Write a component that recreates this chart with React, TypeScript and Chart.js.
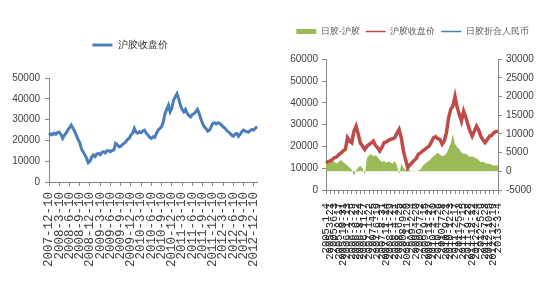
import React, { useEffect, useRef } from 'react';
import { Chart, registerables } from 'chart.js';
Chart.register(...registerables);

// ---------- Left chart data (semi-monthly closes, 2007-12 .. 2012-12) ----------
const leftTickLabels = [
  '2007-12-10', '2008-3-10', '2008-6-10', '2008-9-10', '2008-12-10',
  '2009-3-10', '2009-6-10', '2009-9-10', '2009-12-10', '2010-3-10',
  '2010-6-10', '2010-9-10', '2010-12-10', '2011-3-10', '2011-6-10',
  '2011-9-10', '2011-12-10', '2012-3-10', '2012-6-10', '2012-9-10',
  '2012-12-10',
];
const leftPrice = [
  22500, 23200, 22800, 23500, 23000, 23800, 24000, 22900, 21000, 22500, 23500,
  25000, 26200, 27400, 26000, 24500, 22600, 20500, 19000, 16000, 14500,
  13000, 11500, 9300, 10000, 12000, 13000, 12200, 13500, 13800, 13200,
  14200, 14600, 14000, 15000, 15000, 14600, 15200, 15400, 18600, 18000,
  17000, 17200, 18000, 18600, 19400, 20500, 21000, 22600, 23500, 25800,
  24000, 23500, 24200, 23800, 24600, 25000, 23500, 22600, 21500, 21000,
  21800, 21500, 23500, 25000, 25800, 26600, 29000, 33000, 35000, 37000,
  33800, 35500, 39400, 41000, 42600, 40000, 37000, 35000, 33800, 35000,
  33000, 32000, 31400, 32500, 33000, 33800, 35000, 33000, 30500, 28200,
  26500, 25800, 24500, 25000, 26500, 28200, 28500, 28000, 28500, 28300,
  27500, 26600, 26000, 25000, 24200, 23500, 22600, 22000, 23000, 23400,
  22000, 23000, 24200, 25000, 24500, 24200, 24000, 24800, 25300, 25000, 26000, 26600,
];
const LEFT_STEP = 6; // points per quarter label

// ---------- Right chart data (2005 .. 2013) ----------
const rightTickLabels = [
  '2005-1-4', '2005-3-21', '2005-6-3', '2005-8-17', '2005-10-31', '2006-1-13',
  '2006-3-29', '2006-6-12', '2006-8-24', '2006-11-7', '2007-1-22', '2007-4-5',
  '2007-6-19', '2007-8-31', '2007-11-14', '2008-1-29', '2008-4-11', '2008-6-25',
  '2008-9-8', '2008-11-20', '2009-2-4', '2009-4-20', '2009-7-2', '2009-9-15',
  '2009-11-27', '2010-2-10', '2010-4-26', '2010-7-8', '2010-9-21', '2010-12-3',
  '2011-2-17', '2011-5-3', '2011-7-15', '2011-9-28', '2011-12-12', '2012-2-24',
  '2012-5-9', '2012-7-23', '2012-10-5', '2012-12-19', '2013-3-4',
];
const RIGHT_STEP = 2;
const shfePrice = [
  12500, 13000, 13300, 14000, 14800, 15200, 16300, 17000, 18000, 18600, 24000,
  22500, 21700, 27000, 29300, 25500, 21500, 20200, 18600, 20000, 20900,
  21500, 22400, 20500, 19400, 17900, 19500, 21700, 22000, 22800, 23200,
  23500, 24000, 26000, 27800, 24000, 18000, 14000, 10200, 11500, 12500,
  13500, 14500, 16500, 17000, 18000, 18600, 19500, 20200, 22000, 24000,
  24500, 23500, 23200, 21000, 22500, 26200, 33000, 37000, 38500, 43000,
  38000, 34700, 31600, 36200, 33500, 30100, 27000, 24700, 27000, 29300,
  27500, 24700, 23000, 21700, 23000, 24700, 25000, 26200, 26800, 27000,
];
const spread = [
  2000, 2500, 2200, 2800, 2500, 2000, 2600, 3000, 2400, 2000, 1500,
  1000, 500, -1200, 300, 1000, 1500, 800, -1000, 3500, 4200,
  4600, 4000, 4300, 3800, 3000, 2500, 2800, 2200, 2600, 2400,
  2000, 2800, 1500, -800, 2000, 1000, 300, 1500, 200, 100,
  100, 0, 200, 500, 1500, 2000, 2500, 2800, 3500, 4000,
  4500, 5000, 4500, 4000, 4200, 4800, 6000, 7500, 10000, 7300,
  6500, 6000, 5000, 4600, 4800, 4200, 3800, 4000, 3700, 3500,
  3000, 2400, 2600, 2200, 2000, 2000, 1800, 1500, 1600, 1500,
];
const japanRmb: number[] = [];

const AXIS = '#868686';
const TEXT = '#404040';
const SANS = "'Liberation Sans', Arial, sans-serif";
const MONO = "'Liberation Mono', 'DejaVu Sans Mono', monospace";
const plain = (v: any) => String(v);

export default function App() {
  const lRef = useRef<HTMLCanvasElement>(null);
  const rRef = useRef<HTMLCanvasElement>(null);

  useEffect(() => {
    const left = new Chart(lRef.current!, {
      type: 'line',
      data: {
        labels: leftPrice.map((_, i) => String(i)),
        datasets: [
          {
            label: '沪胶收盘价',
            data: leftPrice,
            borderColor: '#4A7EBB',
            backgroundColor: '#4A7EBB',
            borderWidth: 3,
            pointRadius: 0,
            tension: 0,
            pointStyle: 'line',
          },
        ],
      },
      options: {
        responsive: false,
        devicePixelRatio: 1,
        animation: false,
        layout: { padding: { top: 32, right: 15, bottom: 0, left: 0 } },
        plugins: {
          tooltip: { enabled: false },
          legend: {
            position: 'top',
            labels: {
              usePointStyle: true,
              pointStyleWidth: 20,
              boxHeight: 10,
              padding: 8,
              color: '#333',
              font: { family: SANS, size: 10 },
            },
          },
          subtitle: {
            display: true,
            text: '',
            position: 'top',
            weight: 500,
            font: { size: 1 },
            padding: { top: 17, bottom: 0 },
          },
        },
        scales: {
          x: {
            type: 'category',
            offset: false,
            afterFit: (s: any) => { s.height = 118; },
            grid: { drawOnChartArea: false, drawTicks: true, tickLength: 4, color: AXIS },
            border: { color: AXIS },
            ticks: {
              autoSkip: false,
              maxRotation: 90,
              minRotation: 90,
              padding: 6,
              color: TEXT,
              font: { family: MONO, size: 12.5 },
              callback: (_v: any, i: number) =>
                i % LEFT_STEP === 0 && i / LEFT_STEP < leftTickLabels.length
                  ? leftTickLabels[i / LEFT_STEP]
                  : null,
            },
          },
          y: {
            min: 0,
            max: 50000,
            afterFit: (s: any) => { s.width = 49; },
            grid: { drawOnChartArea: false, tickLength: 4, color: AXIS },
            border: { color: AXIS },
            ticks: { stepSize: 10000, color: TEXT, padding: 5, font: { family: SANS, size: 10 }, callback: plain },
          },
        },
      },
    } as any);

    const right = new Chart(rRef.current!, {
      type: 'line',
      data: {
        labels: shfePrice.map((_, i) => String(i)),
        datasets: [
          {
            label: '日胶-沪胶',
            data: spread,
            yAxisID: 'y1',
            fill: 'origin',
            backgroundColor: '#9BBB59',
            borderColor: '#9BBB59',
            borderWidth: 0,
            pointRadius: 0,
            tension: 0,
            pointStyle: 'rect',
            order: 3,
          },
          {
            label: '沪胶收盘价',
            data: shfePrice,
            yAxisID: 'y',
            borderColor: '#BE4B48',
            backgroundColor: '#BE4B48',
            borderWidth: 3.5,
            pointRadius: 0,
            tension: 0,
            pointStyle: 'line',
            order: 1,
          },
          {
            label: '日胶折合人民币',
            data: japanRmb,
            yAxisID: 'y',
            borderColor: '#4A7EBB',
            backgroundColor: '#4A7EBB',
            borderWidth: 1.5,
            pointRadius: 0,
            pointStyle: 'line',
            order: 2,
          },
        ],
      },
      options: {
        responsive: false,
        devicePixelRatio: 1,
        animation: false,
        layout: { padding: { top: 21, right: 0, bottom: 0, left: 0 } },
        plugins: {
          tooltip: { enabled: false },
          legend: {
            position: 'top',
            labels: {
              usePointStyle: true,
              pointStyleWidth: 20,
              boxHeight: 5,
              padding: 6,
              color: '#595959',
              font: { family: SANS, size: 9 },
              sort: (a: any, b: any) => a.datasetIndex - b.datasetIndex,
              generateLabels: (chart: any) =>
                Chart.defaults.plugins.legend.labels.generateLabels(chart).map((it: any) => {
                  if (it.pointStyle === 'line') it.lineWidth = 1.5;
                  return it;
                }),
            },
          },
          subtitle: {
            display: true,
            text: '',
            position: 'top',
            weight: 500,
            font: { size: 1 },
            padding: { top: 12, bottom: 0 },
          },
        },
        scales: {
          x: {
            type: 'category',
            offset: false,
            afterFit: (s: any) => { s.height = 110; },
            grid: { drawOnChartArea: false, drawTicks: true, tickLength: 4, color: AXIS },
            border: { color: AXIS },
            ticks: {
              autoSkip: false,
              maxRotation: 90,
              minRotation: 90,
              padding: 9,
              color: '#222',
              font: { family: MONO, size: 10.5 },
              callback: (_v: any, i: number) =>
                i % RIGHT_STEP === 0 && i / RIGHT_STEP < rightTickLabels.length
                  ? rightTickLabels[i / RIGHT_STEP]
                  : null,
            },
          },
          y: {
            position: 'left',
            min: 0,
            max: 60000,
            afterFit: (s: any) => { s.width = 51; },
            grid: { drawOnChartArea: false, tickLength: 4, color: AXIS },
            border: { color: AXIS },
            ticks: { stepSize: 10000, color: TEXT, padding: 4, font: { family: SANS, size: 10 }, callback: plain },
          },
          y1: {
            position: 'right',
            min: -5000,
            max: 30000,
            afterFit: (s: any) => { s.width = 52; },
            grid: { drawOnChartArea: false, tickLength: 4, color: AXIS },
            border: { color: AXIS },
            ticks: { stepSize: 5000, color: TEXT, padding: 4, font: { family: SANS, size: 10 }, callback: plain },
          },
        },
      },
    } as any);

    return () => {
      left.destroy();
      right.destroy();
    };
  }, []);

  return (
    <div style={{ position: 'fixed', left: 0, top: 0, width: 550, height: 300, background: '#fff' }}>
      <canvas
        ref={lRef}
        width={275}
        height={300}
        style={{ position: 'absolute', left: 0, top: 0, width: 275, height: 300 }}
      />
      <canvas
        ref={rRef}
        width={275}
        height={300}
        style={{ position: 'absolute', left: 275, top: 0, width: 275, height: 300 }}
      />
    </div>
  );
}
